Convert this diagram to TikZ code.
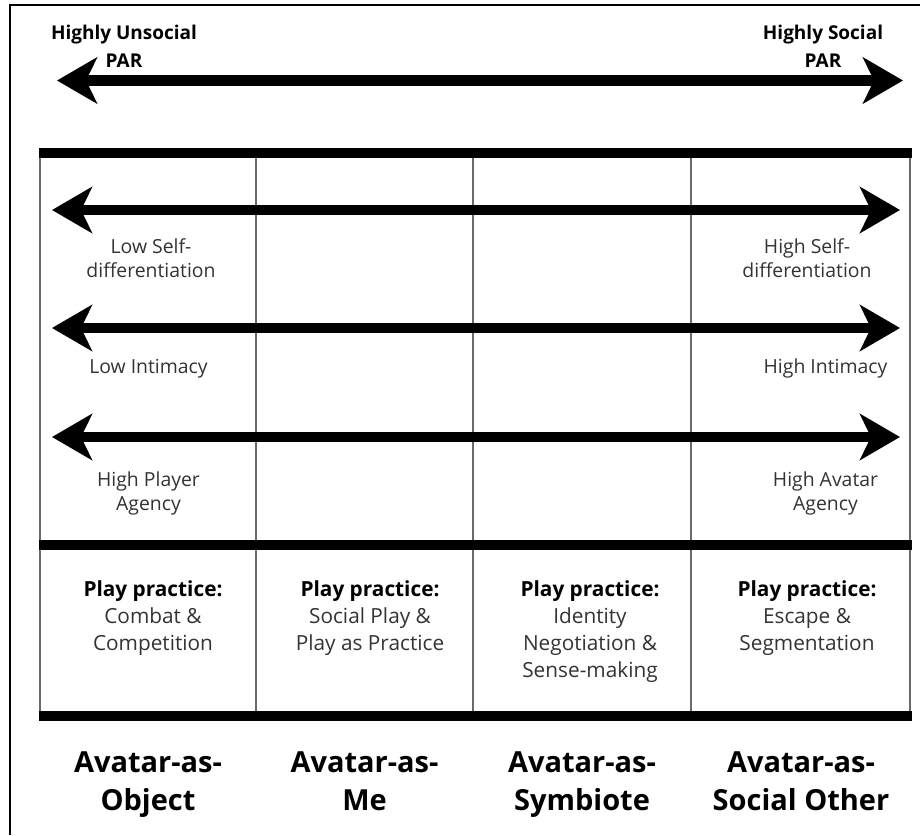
\documentclass[tikz,border=0pt]{standalone}
\usepackage{fontspec}
\setmainfont{Open Sans}
\usetikzlibrary{arrows.meta}
\definecolor{txt}{HTML}{333333}
\definecolor{rulegray}{HTML}{6A6A6A}
\begin{document}
\begin{tikzpicture}[x=1pt,y=-1pt,
  bigarrow/.style={line width=10.5pt,
    {Stealth[length=40pt,width=46pt,inset=11pt]}-{Stealth[length=40pt,width=46pt,inset=11pt]}},
  thickrule/.style={line width=10pt},
  thinrule/.style={line width=1.4pt, draw=rulegray},
  frameline/.style={line width=1.3pt},
  lab/.style={font=\fontsize{19.4}{24.5}\selectfont, text=txt, align=center, inner sep=0pt, anchor=north},
  toplab/.style={font=\bfseries\fontsize{19}{28.5}\selectfont, align=center, inner sep=0pt, anchor=north},
  practice/.style={font=\fontsize{20.8}{27}\selectfont, text=txt, align=center, inner sep=0pt, anchor=north},
  avatar/.style={font=\bfseries\fontsize{29}{38}\selectfont, align=center, inner sep=0pt, anchor=north}
]
\useasboundingbox (0,0) rectangle (920,835);

% outer frame (top and left edges)
\coordinate (fTR) at (920,5);
\coordinate (fTL) at (10,5);
\coordinate (fBL) at (10,835);
\draw[frameline] (fTR) -- (fTL) -- (fBL);

% overall PAR axis
\coordinate (parL) at (57,80.5);
\coordinate (parR) at (903,80.5);
\draw[bigarrow] (parL) -- (parR);
\node[toplab] (unsocial) at (124,24.5) {Highly Unsocial\\PAR};
\node[toplab] (social) at (823,24.5) {Highly Social\\PAR};

% table grid
\foreach \name/\xx in {c0/40, c1/256, c2/473, c3/691, c4/910}{
  \coordinate (\name t) at (\xx,153);
  \coordinate (\name b) at (\xx,716);
  \draw[thinrule] (\name t) -- (\name b);
}
\foreach \name/\yy in {rTop/153, rMid/545, rBot/716}{
  \coordinate (\name L) at (39.3,\yy);
  \coordinate (\name R) at (912,\yy);
  \draw[thickrule] (\name L) -- (\name R);
}

% dimension arrows
\coordinate (sdL) at (52,210);  \coordinate (sdR) at (900,210);
\coordinate (inL) at (52,328);  \coordinate (inR) at (900,328);
\coordinate (agL) at (52,437);  \coordinate (agR) at (900,437);
\draw[bigarrow] (sdL) -- (sdR);
\draw[bigarrow] (inL) -- (inR);
\draw[bigarrow] (agL) -- (agR);

\node[lab] (lowSelf) at (151,238) {Low Self-\\differentiation};
\node[lab] (highSelf) at (807,238) {High Self-\\differentiation};
\node[lab] (lowInt) at (148.5,359) {Low Intimacy};
\node[lab] (highInt) at (825.5,359) {High Intimacy};
\node[lab] (plAg) at (148.5,471.5) {High Player\\Agency};
\node[lab] (avAg) at (825.5,471.5) {High Avatar\\Agency};

% play practices
\node[practice] (pp1) at (153,580.5) {\textbf{\color{black}Play practice:}\\Combat \&\\Competition};
\node[practice] (pp2) at (370,580.5) {\textbf{\color{black}Play practice:}\\Social Play \&\\Play as Practice};
\node[practice] (pp3) at (590,580.5) {\textbf{\color{black}Play practice:}\\Identity\\Negotiation \&\\Sense-making};
\node[practice] (pp4) at (807,580.5) {\textbf{\color{black}Play practice:}\\Escape \&\\Segmentation};

% avatar types
\node[avatar] (obj) at (148,751.5) {Avatar-as-\\Object};
\node[avatar] (me) at (364.5,751.5) {Avatar-as-\\Me};
\node[avatar] (sym) at (582,751.5) {Avatar-as-\\Symbiote};
\node[avatar] (soc) at (801,751.5) {Avatar-as-\\Social Other};
\end{tikzpicture}
\end{document}
